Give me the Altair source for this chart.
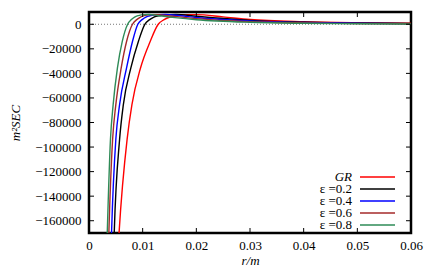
import altair as alt
import pandas as pd

# Data (r/m, m^2 SEC)
gr_x = [0.0054, 0.0056, 0.0071, 0.0080, 0.0096, 0.0114, 0.0129, 0.0140, 0.0151, 0.0164, 0.0185, 0.0200, 0.0250, 0.0300, 0.0400, 0.0500, 0.0600]
gr_y = [-185000, -170000, -93700, -65450, -35560, -14000, 0, 3800, 5900, 7100, 7900, 7900, 6000, 3900, 2100, 1300, 900]

e02_x = [0.0046, 0.0047, 0.0057, 0.0064, 0.0078, 0.0092, 0.0104, 0.0113, 0.0121, 0.0132, 0.0150, 0.0162, 0.0200, 0.0300, 0.0400, 0.0500, 0.0600]
e02_y = [-185000, -170000, -93700, -65450, -35560, -14000, 0, 3800, 5900, 7100, 7900, 8000, 6500, 3200, 1700, 1000, 650]

e04_x = [0.0041, 0.0042, 0.0050, 0.0057, 0.0070, 0.0081, 0.0091, 0.0099, 0.0106, 0.0115, 0.0131, 0.0142, 0.0170, 0.0200, 0.0300, 0.0400, 0.0500, 0.0600]
e04_y = [-185000, -170000, -93700, -65450, -35560, -14000, 0, 3800, 5900, 7100, 7900, 8000, 6900, 5500, 2700, 1400, 850, 500]

e06_x = [0.0036, 0.0037, 0.0044, 0.0050, 0.0060, 0.0070, 0.0081, 0.0089, 0.0096, 0.0103, 0.0117, 0.0128, 0.0150, 0.0200, 0.0300, 0.0400, 0.0500, 0.0600]
e06_y = [-185000, -170000, -93700, -65450, -35560, -14000, 0, 3800, 5900, 7100, 7900, 7900, 6800, 4600, 2100, 1100, 650, 380]

e08_x = [0.0033, 0.0034, 0.0040, 0.0045, 0.0053, 0.0062, 0.0072, 0.0079, 0.0085, 0.0092, 0.0104, 0.0112, 0.0130, 0.0160, 0.0200, 0.0300, 0.0400, 0.0500, 0.0600]
e08_y = [-185000, -170000, -93700, -65450, -35560, -14000, 0, 3800, 5900, 7100, 7900, 8000, 7000, 5400, 3700, 1600, 800, 450, 250]

series_names = ["GR", "ε =0.2", "ε =0.4", "ε =0.6", "ε =0.8"]
series_colors = ["#ff0000", "#000000", "#0000ff", "#a52a2a", "#2e8b57"]

x_ticks = [0, 0.01, 0.02, 0.03, 0.04, 0.05, 0.06]
y_ticks = [0, -20000, -40000, -60000, -80000, -100000, -120000, -140000, -160000]

FONT = "Liberation Serif"
FS = 13
W, H = 322, 221

rows = []
for name, xs, ys in zip(series_names, [gr_x, e02_x, e04_x, e06_x, e08_x], [gr_y, e02_y, e04_y, e06_y, e08_y]):
    for xv, yv in zip(xs, ys):
        rows.append({"series": name, "r": xv, "sec": yv})
df = pd.DataFrame(rows)

xscale = alt.Scale(domain=[0, 0.06], nice=False, zero=False)
yscale = alt.Scale(domain=[-170000, 10000], nice=False, zero=False)

common = dict(labelFont=FONT, titleFont=FONT, labelFontSize=FS, titleFontSize=FS,
              labelColor="black", titleColor="black", titleFontWeight="normal",
              titleFontStyle="italic", tickSize=0, labelFlush=False, domain=False, grid=False)

xaxis = alt.Axis(values=x_ticks, format="~g", title="r/m", labelPadding=6,
                 titleBaseline="alphabetic", titleY=31, titleX=W / 2, **common)
yaxis = alt.Axis(values=y_ticks, title="m²SEC",
                 labelExpr="datum.value < 0 ? '\u2212' + format(-datum.value, 'd') : '0'",
                 labelPadding=8, titleBaseline="middle", titleX=-74, titleY=H / 2, **common)

zero_line = alt.Chart(pd.DataFrame({"y": [0]})).mark_rule(
    color="#555555", strokeWidth=0.8, strokeDash=[1, 2]
).encode(y=alt.Y("y:Q", scale=yscale, axis=yaxis))

lines = alt.Chart(df).mark_line(clip=True, strokeWidth=1.4, interpolate="monotone").encode(
    x=alt.X("r:Q", scale=xscale, axis=xaxis),
    y=alt.Y("sec:Q", scale=yscale, axis=yaxis),
    color=alt.Color("series:N", scale=alt.Scale(domain=series_names, range=series_colors), legend=None),
    detail="series:N",
)

xt = pd.DataFrame({"v": x_ticks})
yt = pd.DataFrame({"v": y_ticks})
tick_b = alt.Chart(xt).mark_rule(color="black", strokeWidth=1).encode(
    x=alt.X("v:Q", scale=xscale, axis=xaxis), y=alt.value(H), y2=alt.value(H - 5))
tick_t = alt.Chart(xt).mark_rule(color="black", strokeWidth=1).encode(
    x=alt.X("v:Q", scale=xscale, axis=xaxis), y=alt.value(0), y2=alt.value(5))
tick_l = alt.Chart(yt).mark_rule(color="black", strokeWidth=1).encode(
    y=alt.Y("v:Q", scale=yscale, axis=yaxis), x=alt.value(0), x2=alt.value(5))
tick_r = alt.Chart(yt).mark_rule(color="black", strokeWidth=1).encode(
    y=alt.Y("v:Q", scale=yscale, axis=yaxis), x=alt.value(W), x2=alt.value(W - 5))

legend_layers = []
for i, (name, col) in enumerate(zip(series_names, series_colors)):
    yy = 165 + i * 12
    legend_layers.append(
        alt.Chart(pd.DataFrame({"t": [name]})).mark_text(
            align="right", baseline="middle", font=FONT, fontSize=FS,
            fontStyle="italic" if name == "GR" else "normal", color="black"
        ).encode(text="t:N", x=alt.value(263), y=alt.value(yy))
    )
    legend_layers.append(
        alt.Chart(pd.DataFrame({"t": [name]})).mark_rule(color=col, strokeWidth=1.4).encode(
            x=alt.value(271), x2=alt.value(306), y=alt.value(yy))
    )

chart = alt.layer(zero_line, lines, tick_b, tick_t, tick_l, tick_r, *legend_layers).properties(
    width=W, height=H,
    autosize=alt.AutoSizeParams(type="none"),
    padding={"left": 81, "top": 4, "right": 17, "bottom": 35},
).configure_view(
    stroke="black", strokeWidth=2.5
)

chart.save("out.html", embed_options={"renderer": "svg", "actions": False})
